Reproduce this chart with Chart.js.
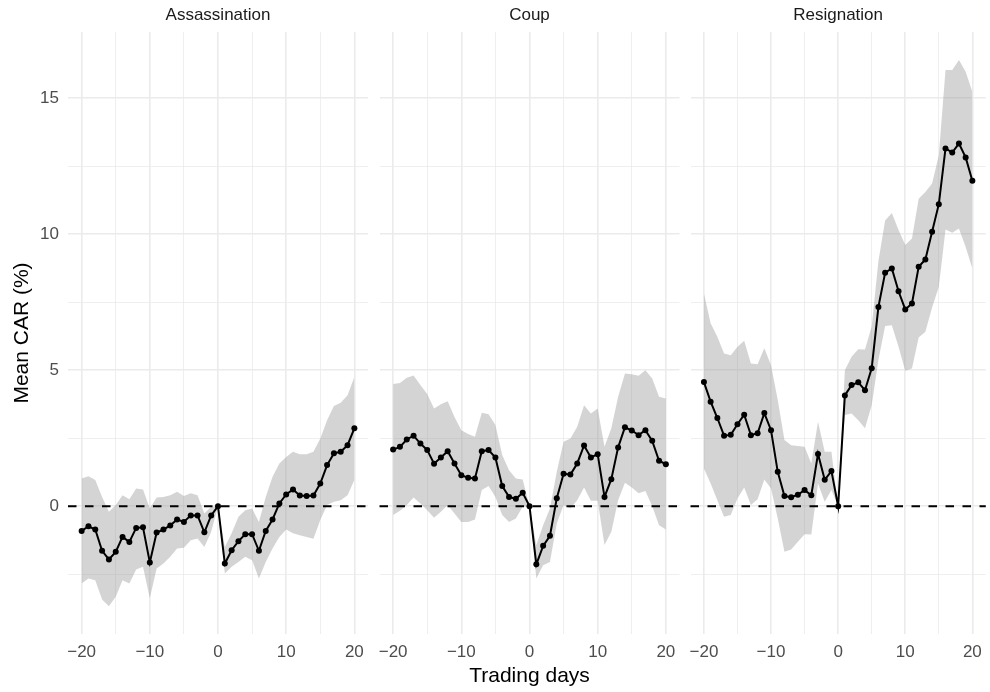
<!DOCTYPE html>
<html>
<head>
<meta charset="utf-8">
<script src="https://cdn.jsdelivr.net/npm/chart.js@4"></script>
<style>
  body { margin: 0; background: #fff; }
  #wrap { position: relative; width: 990px; height: 692px; }
  #wrap canvas { position: absolute; left: 0; top: 0; }
</style>
</head>
<body>
<div id="wrap">
  <canvas id="p1" width="990" height="692"></canvas>
  <canvas id="p2" width="990" height="692"></canvas>
  <canvas id="p3" width="990" height="692"></canvas>
</div>
<script>
const days = [-20, -19, -18, -17, -16, -15, -14, -13, -12, -11, -10, -9, -8, -7, -6, -5, -4, -3, -2, -1, 0,
  1, 2, 3, 4, 5, 6, 7, 8, 9, 10, 11, 12, 13, 14, 15, 16, 17, 18, 19, 20];
const xTicks = [-20, -15, -10, -5, 0, 5, 10, 15, 20];
const yTicks = [-2.5, 0, 2.5, 5, 7.5, 10, 12.5, 15];

// mean CAR and the band around it, by event type
const assassCar = [-0.91, -0.74, -0.86, -1.64, -1.96, -1.68, -1.13, -1.32, -0.80, -0.78,
  -2.07, -0.97, -0.86, -0.71, -0.49, -0.58, -0.34, -0.34, -0.96, -0.34, 0,
  -2.11, -1.62, -1.29, -1.03, -1.03, -1.64, -0.91, -0.49, 0.10, 0.43,
  0.61, 0.39, 0.37, 0.39, 0.83, 1.51, 1.94, 2.00, 2.24, 2.86];
const assassHi = [1.02, 1.10, 0.96, 0.34, -0.21, 0.04, 0.40, 0.25, 0.65, 0.61,
  -0.09, 0.32, 0.34, 0.40, 0.53, 0.37, 0.47, 0.40, -0.27, -0.02, 0,
  -1.50, -1.00, -0.39, -0.15, -0.09, -0.58, 0.34, 1.08, 1.57, 1.81,
  2.00, 1.91, 1.91, 2.00, 2.49, 3.16, 3.68, 3.80, 4.08, 4.75];
const assassLo = [-2.84, -2.66, -2.72, -3.43, -3.68, -3.33, -2.72, -2.84, -2.33, -2.23,
  -3.39, -2.29, -2.11, -1.86, -1.56, -1.53, -1.25, -1.19, -1.50, -0.94, 0,
  -2.48, -2.23, -2.05, -1.86, -1.99, -2.66, -2.05, -1.56, -1.13, -0.86,
  -1.00, -1.07, -1.13, -1.20, -0.51, 0.04, 0.16, 0.22, 0.40, 0.96];

const coupCar = [2.08, 2.18, 2.45, 2.59, 2.30, 2.06, 1.56, 1.79, 2.02, 1.57,
  1.14, 1.04, 1.02, 2.02, 2.06, 1.79, 0.74, 0.34, 0.27, 0.49, 0,
  -2.14, -1.46, -1.09, 0.29, 1.19, 1.16, 1.57, 2.23, 1.79, 1.91,
  0.34, 0.99, 2.16, 2.90, 2.78, 2.61, 2.79, 2.40, 1.67, 1.54];
const coupHi = [4.49, 4.53, 4.72, 4.80, 4.45, 4.12, 3.59, 3.75, 3.86, 3.28,
  2.79, 2.65, 2.55, 3.43, 3.38, 2.98, 1.88, 1.32, 1.02, 0.98, 0,
  -1.43, -0.70, -0.09, 1.26, 2.37, 2.49, 2.92, 3.71, 3.41, 3.59,
  2.18, 2.86, 4.02, 4.88, 4.85, 4.79, 5.00, 4.69, 4.02, 3.96];
const coupLo = [-0.33, -0.17, 0.04, 0.32, 0.10, -0.15, -0.43, -0.21, 0.04, -0.27,
  -0.58, -0.58, -0.49, 0.59, 0.74, 0.34, -0.33, -0.58, -0.45, -0.02, 0,
  -2.66, -2.17, -2.05, -0.64, 0.04, -0.09, 0.22, 0.69, 0.20, 0.20,
  -1.43, -0.94, 0.22, 0.86, 0.69, 0.47, 0.56, 0.00, -0.70, -0.86];

const resignCar = [4.56, 3.84, 3.24, 2.59, 2.62, 3.01, 3.36, 2.61, 2.68, 3.42,
  2.79, 1.26, 0.37, 0.33, 0.42, 0.59, 0.40, 1.92, 0.97, 1.29, 0,
  4.07, 4.45, 4.55, 4.26, 5.07, 7.32, 8.58, 8.74, 7.90, 7.23,
  7.45, 8.80, 9.07, 10.09, 11.10, 13.15, 13.00, 13.33, 12.82, 11.96];
const resignHi = [7.82, 6.72, 6.23, 5.61, 5.55, 5.86, 6.08, 5.24, 5.22, 5.80,
  5.18, 3.90, 2.43, 2.24, 2.21, 2.18, 1.57, 3.10, 2.00, 2.00, 0,
  5.00, 5.49, 5.77, 5.76, 6.60, 9.00, 10.50, 10.78, 10.15, 9.60,
  9.84, 11.30, 11.55, 11.86, 12.90, 16.03, 16.03, 16.40, 15.97, 15.23];
const resignLo = [1.38, 0.83, 0.22, -0.39, -0.33, 0.28, 0.69, 0.04, 0.25, 0.98,
  0.65, -0.45, -1.68, -1.59, -1.31, -1.03, -1.04, 0.83, 0.16, 0.59, 0,
  3.35, 3.41, 3.16, 2.86, 3.71, 5.37, 6.62, 6.65, 5.86, 4.98,
  5.06, 6.20, 6.41, 7.30, 8.06, 10.17, 10.05, 10.21, 9.53, 8.74];

const fontFamily = '"Liberation Sans", Arial, sans-serif';
Chart.defaults.font.family = fontFamily;

const minus = v => String(v).replace('-', '\u2212');
const pts = arr => arr.map((v, i) => ({x: days[i], y: v}));

// dashed line at zero, drawn right after the band
const zeroLine = {
    id: 'zeroLine',
    afterDatasetDraw(chart, args) {
        if (args.index !== 1) return;
        const {ctx, chartArea, scales} = chart;
        const y = scales.y.getPixelForValue(0);
        ctx.save();
        ctx.beginPath();
        ctx.setLineDash([8.5, 8.5]);
        ctx.lineWidth = 2;
        ctx.strokeStyle = '#000';
        ctx.moveTo(chartArea.left, y);
        ctx.lineTo(chartArea.right, y);
        ctx.stroke();
        ctx.restore();
    }
};

// facet label centred over the panel itself
const strip = {
    id: 'strip',
    afterDraw(chart, args, opts) {
        const {ctx, chartArea} = chart;
        ctx.save();
        ctx.font = '17px ' + fontFamily;
        ctx.fillStyle = '#1A1A1A';
        ctx.textAlign = 'center';
        ctx.textBaseline = 'middle';
        ctx.fillText(opts.text, (chartArea.left + chartArea.right) / 2, 15.5);
        ctx.restore();
    }
};

function makePanel(id, name, car, lo, hi, padLeft, padRight, first, middle) {
    new Chart(document.getElementById(id), {
        type: 'line',
        data: {
            datasets: [{
                data: pts(car),
                borderColor: '#000',
                borderWidth: 2,
                pointRadius: 3,
                pointBackgroundColor: '#000',
                pointBorderWidth: 0,
                fill: false
            }, {
                data: pts(hi),
                borderColor: 'transparent',
                borderWidth: 0,
                pointRadius: 0,
                fill: '+1',
                backgroundColor: 'rgba(153,153,153,0.42)'
            }, {
                data: pts(lo),
                borderColor: 'transparent',
                borderWidth: 0,
                pointRadius: 0,
                fill: false
            }]
        },
        options: {
            responsive: false,
            animation: false,
            events: [],
            layout: {padding: {left: padLeft, right: padRight, top: 32, bottom: 0}},
            plugins: {
                legend: {display: false},
                tooltip: {enabled: false},
                strip: {text: name}
            },
            scales: {
                x: {
                    type: 'linear',
                    min: -22,
                    max: 22,
                    afterBuildTicks: s => { s.ticks = xTicks.map(v => ({value: v})); },
                    afterFit: s => { s.height = 58; },
                    border: {display: false},
                    grid: {
                        color: '#EBEBEB',
                        drawTicks: false,
                        lineWidth: c => (c.tick && c.tick.value % 10 === 0) ? 1.6 : 0.8
                    },
                    ticks: {
                        color: '#4D4D4D',
                        font: {size: 17},
                        padding: 8,
                        maxRotation: 0,
                        autoSkip: false,
                        callback: v => v % 10 === 0 ? minus(v) : ''
                    },
                    title: {
                        display: middle,
                        text: 'Trading days',
                        color: '#000',
                        font: {size: 21},
                        padding: {top: 0, bottom: 3.4}
                    }
                },
                y: {
                    min: -4.7,
                    max: 17.43,
                    afterBuildTicks: s => { s.ticks = yTicks.map(v => ({value: v})); },
                    afterFit: s => { s.width = first ? 68 : 0; },
                    border: {display: false},
                    grid: {
                        color: '#EBEBEB',
                        drawTicks: false,
                        lineWidth: c => (c.tick && c.tick.value % 5 === 0) ? 1.6 : 0.8
                    },
                    ticks: {
                        display: first,
                        color: '#4D4D4D',
                        font: {size: 17},
                        padding: 9,
                        callback: v => v % 5 === 0 ? minus(v) : ''
                    },
                    title: {
                        display: first,
                        text: 'Mean CAR (%)',
                        color: '#000',
                        font: {size: 21},
                        padding: {top: 10, bottom: 0}
                    }
                }
            }
        },
        plugins: [zeroLine, strip]
    });
}

makePanel('p1', 'Assassination', assassCar, assassLo, assassHi, 0, 622, true, false);
makePanel('p2', 'Coup', coupCar, coupLo, coupHi, 379.5, 310.5, false, true);
makePanel('p3', 'Resignation', resignCar, resignLo, resignHi, 690.5, 0, false, false);
</script>
</body>
</html>
